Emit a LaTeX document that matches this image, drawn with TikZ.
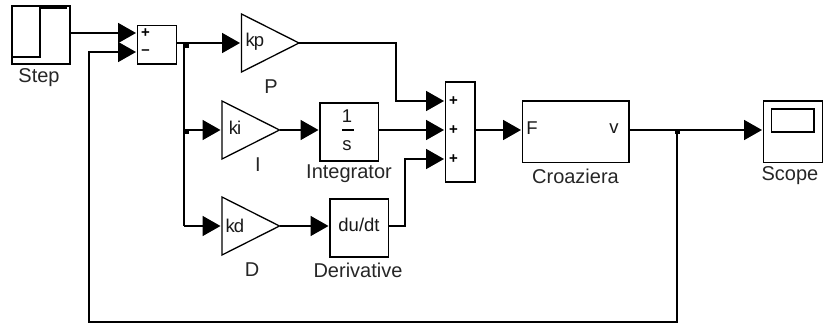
\documentclass[tikz,border=0pt]{standalone}
\usepackage{fontspec}
\setmainfont{Liberation Sans}
\usetikzlibrary{arrows.meta,shapes.geometric,calc}
\tikzset{
  block/.style={draw=black,line width=1.6pt,rectangle,inner sep=0pt,outer sep=0pt,anchor=north west,fill=white},
  gain/.style={draw=black,line width=1.3pt,isosceles triangle,isosceles triangle stretches,shape border rotate=0,minimum width=58pt,minimum height=57.5pt,inner sep=0pt,outer sep=0pt,anchor=lower side},
  wire/.style={line width=1.8pt,black},
  arrowed/.style={wire,-{Triangle[length=18pt,width=20pt]},shorten >=1.5pt},
  lbl/.style={font=\fontsize{20}{22}\selectfont,inner sep=0pt,text=black!85},
  inlbl/.style={font=\fontsize{18.5}{20}\selectfont,inner sep=0pt,text=black!90},
  sgn/.style={font=\bfseries\fontsize{15}{16}\selectfont,inner sep=0pt},
  dotj/.style={fill=black,draw=none,rectangle,minimum size=4.5pt,inner sep=0pt,outer sep=0pt}
}
\begin{document}
\begin{tikzpicture}[x=1pt,y=-1pt]
\useasboundingbox (0,0) rectangle (823,324);
% blocks
\node[block,minimum width=58pt,minimum height=58pt] (step) at (12,6) {};
\node[block,minimum width=39pt,minimum height=38.5pt] (sum1) at (137.5,25.5) {};
\node[gain] (kp) at (241.5,43) {};
\node[gain] (ki) at (222,130) {};
\node[gain] (kd) at (222,226) {};
\node[block,minimum width=58.5pt,minimum height=58pt] (int) at (320,103) {};
\node[block,minimum width=58.5pt,minimum height=58pt] (der) at (330,199) {};
\node[block,minimum width=29.5pt,minimum height=100pt] (sum2) at (445.5,82) {};
\node[block,minimum width=106.5pt,minimum height=61.5pt] (cro) at (522.5,101) {};
\node[block,minimum width=59pt,minimum height=61.5pt] (sco) at (763.5,101) {};
\node[block,minimum width=42.5pt,minimum height=23pt] (screen) at (771.5,109) {};
% step trace
\draw[line width=1.4pt] (11,57) -- (40,57) -- (40,8) -- (67,8);
% texts
\node[lbl] (tstep) at (39,78) {Step};
\node[lbl] (tp) at (271,87) {P};
\node[lbl] (ti) at (258,165) {I};
\node[lbl] (td) at (252,270) {D};
\node[lbl] (tint) at (349,174) {Integrator};
\node[lbl] (tder) at (358,270) {Derivative};
\node[lbl] (tcro) at (575.5,176) {Croaziera};
\node[lbl] (tsco) at (790,176) {Scope};
\node[inlbl] (lkp) at (255,42) {k\kern-1pt p};
\node[inlbl] (lki) at (235,128) {k\kern-1pt i};
\node[inlbl] (lkd) at (235,226) {k\kern-1pt d};
\node[inlbl] (lone) at (347,116) {1};
\node[inlbl] (ls) at (347,146) {s};
\draw[line width=1.4pt] (342,130) -- (354,130);
\node[inlbl] (ldu) at (359,225) {du/dt};
\node[inlbl] (lf) at (532,128.5) {F};
\node[inlbl] (lv) at (614,129) {v};
\node[sgn] (p1) at (145.5,33.5) {+};
\node[sgn] (m1) at (145.5,52) {\textendash};
\node[sgn] (p2) at (453.5,101.5) {+};
\node[sgn] (p3) at (453.5,130.5) {+};
\node[sgn] (p4) at (453.5,159) {+};
% ports
\coordinate (sout) at (70,33);
\coordinate (sin1) at (137.5,33);
\coordinate (sin2) at (137.5,52);
\coordinate (sumout) at (176.5,43);
\coordinate (a1) at (445.5,101);
\coordinate (a2) at (445.5,130);
\coordinate (a3) at (445.5,159);
\coordinate (jp) at (184,43);
\coordinate (ji) at (184,130);
\coordinate (jo) at (677,130);
\coordinate (cin) at (522.5,130);
\coordinate (cout) at (629,130);
\coordinate (sc) at (763.5,130);
% wires
\draw[arrowed] (sout) -- (sin1);
\draw[arrowed] (sumout) -- (kp.lower side);
\draw[wire] (jp) -- (184,226) coordinate (jd);
\draw[arrowed] (ji) -- (ki.lower side);
\draw[arrowed] (jd) -- (kd.lower side);
\draw[arrowed] (kp.apex) -- (396,43) -- (396,101) -- (a1);
\draw[arrowed] (ki.apex) -- (ki.apex -| int.west);
\draw[arrowed] (kd.apex) -- (kd.apex -| der.west);
\draw[arrowed] (a2 -| int.east) -- (a2);
\draw[arrowed] (kd.apex -| der.east) -- (405,226) -- (405,159) -- (a3);
\draw[arrowed] (a2 -| sum2.east) -- (cin);
\draw[arrowed] (cout) -- (sc);
\draw[arrowed] (jo) -- (677,322) -- (89,322) -- (89,52) -- (sin2);
% junction dots
\node[dotj] (d1) at (186.3,45.3) {};
\node[dotj] (d2) at (186.3,132) {};
\node[dotj] (d3) at (677.3,132) {};
\end{tikzpicture}
\end{document}
